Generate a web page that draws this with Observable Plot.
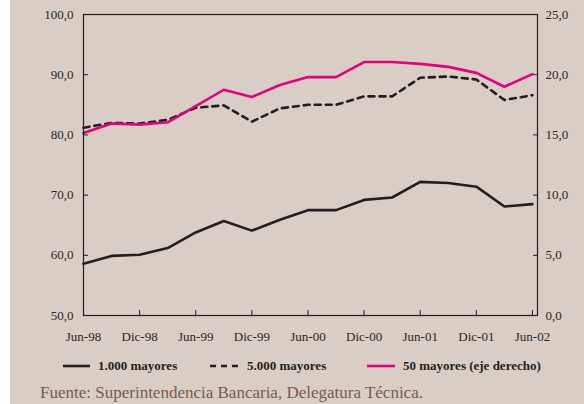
<!DOCTYPE html>
<html><head><meta charset="utf-8">
<script src="https://cdn.jsdelivr.net/npm/d3@7"></script>
<script src="https://cdn.jsdelivr.net/npm/@observablehq/plot@0.6"></script>
<style>
html,body{margin:0;padding:0;background:#fff;}
#wrap{position:absolute;left:10px;top:0;width:574px;height:404px;background:#d9cec5;font-family:"Liberation Serif",serif;overflow:hidden;}
#chart{position:absolute;left:0;top:0;}
.leg{position:absolute;top:358px;height:16px;display:flex;align-items:center;font-family:"Liberation Serif",serif;font-weight:bold;font-size:13px;color:#231f20;white-space:nowrap;}
.leg svg{margin-right:8px;}
#src{position:absolute;left:30px;top:383px;font-family:"Liberation Serif",serif;font-size:17px;color:#7a5a50;white-space:nowrap;}
</style>
</head><body>
<div id="wrap">
  <div id="chart"></div>
  <div class="leg" style="left:53px"><svg width="27" height="6"><line x1="0" x2="27" y1="3" y2="3" stroke="#231f20" stroke-width="2.6"/></svg><span>1.000 mayores</span></div>
  <div class="leg" style="left:200px"><svg width="29" height="6"><line x1="0" x2="28" y1="3" y2="3" stroke="#231f20" stroke-width="2.6" stroke-dasharray="6,5"/></svg><span>5.000 mayores</span></div>
  <div class="leg" style="left:357px"><svg width="28" height="6"><line x1="0" x2="28" y1="3" y2="3" stroke="#e6007e" stroke-width="2.6"/></svg><span>50 mayores (eje derecho)</span></div>
  <div id="src">Fuente: Superintendencia Bancaria, Delegatura Técnica.</div>
</div>
<script>
const periods = ["Jun-98","Sep-98","Dic-98","Mar-99","Jun-99","Sep-99","Dic-99","Mar-00","Jun-00","Sep-00","Dic-00","Mar-01","Jun-01","Sep-01","Dic-01","Mar-02","Jun-02"];
const mayores1000 = [58.6,59.9,60.1,61.2,63.8,65.7,64.1,65.9,67.5,67.5,69.2,69.6,72.2,72.0,71.4,68.1,68.5];
const mayores5000 = [81.2,82.0,81.9,82.5,84.5,84.9,82.2,84.4,85.0,85.0,86.4,86.4,89.5,89.7,89.2,85.8,86.6];
const mayores50 = [15.15,15.95,15.85,16.05,17.4,18.75,18.15,19.15,19.8,19.8,21.05,21.05,20.9,20.65,20.15,19.0,20.05];
const xTickLabels = ["Jun-98","Dic-98","Jun-99","Dic-99","Jun-00","Dic-00","Jun-01","Dic-01","Jun-02"];
const leftTicks = [50,60,70,80,90,100];
const rightTicks = [0,5,10,15,20,25];

const idx = periods.map((p, i) => i);
const xTicks = xTickLabels.map(l => periods.indexOf(l));
const toLeft = v => 50 + 2 * v;
const fmt = d => d.toFixed(1).replace(".", ",");

const chart = Plot.plot({
  width: 574, height: 350,
  marginLeft: 73, marginRight: 47, marginTop: 14, marginBottom: 35,
  style: {fontFamily: "Liberation Serif", fontSize: "13px", background: "transparent", color: "#2a2626"},
  x: {domain: [0, 16.18]},
  y: {domain: [50, 100]},
  marks: [
    Plot.axisY(leftTicks, {anchor: "left", tickSize: -5, tickPadding: 15, tickFormat: fmt, label: null, stroke: "#231f20"}),
    Plot.axisY(rightTicks.map(toLeft), {anchor: "right", tickSize: -5, tickPadding: 13, tickFormat: d => fmt((d - 50) / 2), label: null, stroke: "#231f20"}),
    Plot.axisX(xTicks, {anchor: "bottom", tickSize: -5, tickPadding: 21, tickFormat: i => periods[i], label: null, stroke: "#231f20"}),
    Plot.line(idx, {x: i => i, y: i => mayores1000[i], stroke: "#231f20", strokeWidth: 2.6}),
    Plot.line(idx, {x: i => i, y: i => mayores5000[i], stroke: "#231f20", strokeWidth: 2.6, strokeDasharray: "6,5"}),
    Plot.line(idx, {x: i => i, y: i => toLeft(mayores50[i]), stroke: "#e6007e", strokeWidth: 2.6}),
    Plot.frame({stroke: "#231f20", strokeWidth: 1.2})
  ]
});
document.getElementById("chart").appendChild(chart);
</script>
</body></html>
